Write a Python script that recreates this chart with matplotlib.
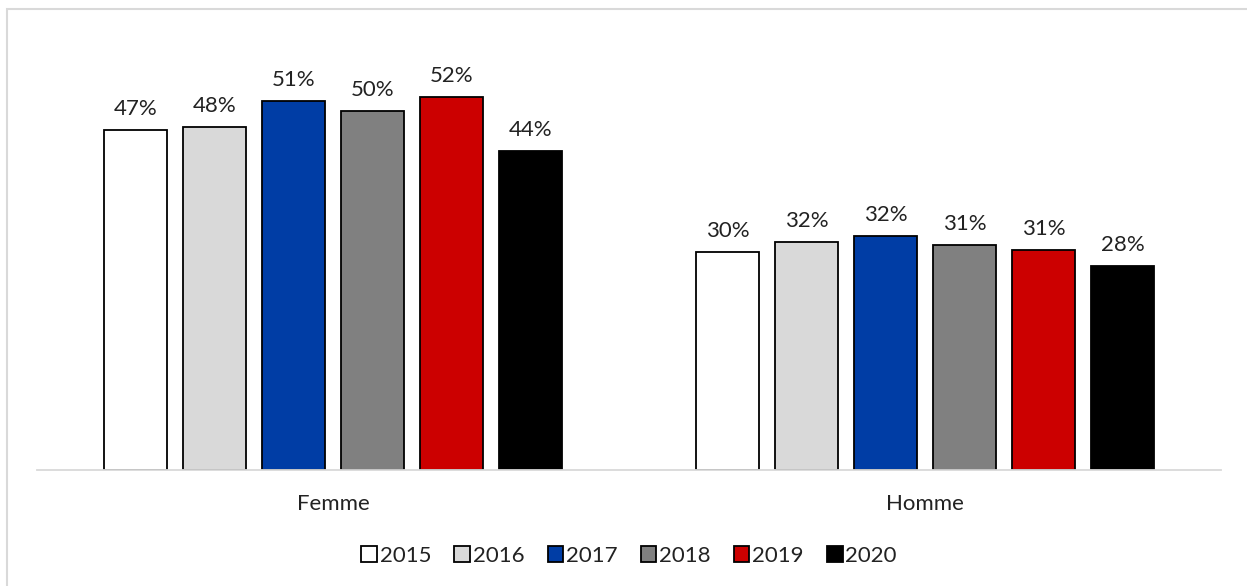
import numpy as np
import matplotlib.pyplot as plt
from matplotlib.patches import Rectangle

categories = ['Femme', 'Homme']
years = ['2015', '2016', '2017', '2018', '2019', '2020']
values = {
    '2015': [47.2, 30.3],
    '2016': [47.6, 31.7],
    '2017': [51.3, 32.5],
    '2018': [49.9, 31.3],
    '2019': [51.8, 30.6],
    '2020': [44.3, 28.3],
}
colors = ['#ffffff', '#d9d9d9', '#003da5', '#808080', '#cc0000', '#000000']

plt.rcParams['font.family'] = ['Lato', 'DejaVu Sans']

fig = plt.figure(figsize=(12.47, 5.86), dpi=100)
ax = fig.add_axes([37 / 1247, 1 - 470 / 586, (1221 - 37) / 1247, 432 / 586])

# light frame around the chart area
fig.patches.append(Rectangle((7 / 1247, -0.1), 1.2, 1 - 9 / 586 + 0.1,
                             transform=fig.transFigure, fill=False,
                             edgecolor='#d9d9d9', lw=1.5))

x = np.arange(len(categories))
width = 0.105
step = 0.1334
for i, yr in enumerate(years):
    pos = x + (i - 2.5) * step
    bars = ax.bar(pos, values[yr], width, color=colors[i], edgecolor='black',
                  linewidth=1.3, label=yr, zorder=2)
    for b, v in zip(bars, values[yr]):
        ax.annotate(f'{v:.0f}%', (b.get_x() + b.get_width() / 2, v),
                    xytext=(0, 8), textcoords='offset points',
                    ha='center', va='bottom', fontsize=16, color='#222222')

ax.set_xlim(-0.5, 1.5)
ax.set_ylim(0, 60)
ax.set_yticks([])
ax.set_xticks(x)
ax.set_xticklabels(categories, fontsize=16, color='#222222')
ax.tick_params(axis='x', length=0, pad=17)
for s in ['top', 'right', 'left']:
    ax.spines[s].set_visible(False)
ax.spines['bottom'].set_color('#d9d9d9')
ax.spines['bottom'].set_linewidth(1.3)

leg = ax.legend(loc='center', bbox_to_anchor=(0.5, -0.198), ncol=6, frameon=False,
                fontsize=16, handlelength=0.7, handleheight=0.7,
                handletextpad=0.12, columnspacing=1.05)
for t in leg.get_texts():
    t.set_color('#222222')

fig.savefig('out.png', dpi=100)
